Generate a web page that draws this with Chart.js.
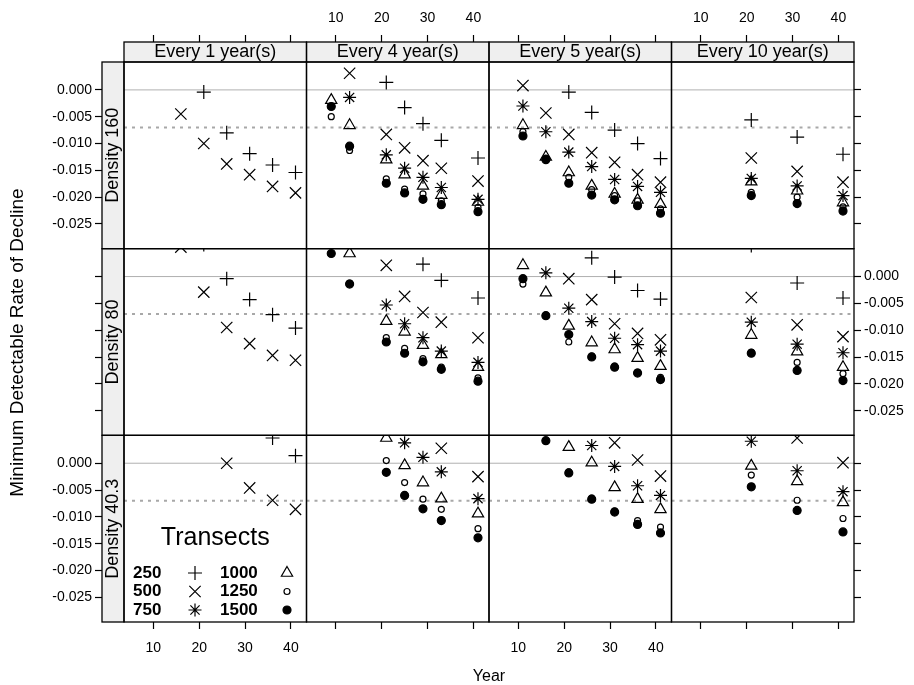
<!DOCTYPE html>
<html>
<head>
<meta charset="utf-8">
<script src="https://cdn.jsdelivr.net/npm/chart.js@4.4.1/dist/chart.umd.min.js"></script>
<style>
  html, body { margin: 0; padding: 0; background: #fff; }
</style>
</head>
<body>
<canvas id="lattice" width="914" height="685"></canvas>
<script>
// panel labels
const intervals = ['Every 1 year(s)', 'Every 4 year(s)', 'Every 5 year(s)', 'Every 10 year(s)'];
const densities = ['Density 160', 'Density 80', 'Density 40.3'];
const transects = ['250', '500', '750', '1000', '1250', '1500'];

// survey years for each interval
const yearsEvery1 = [16, 21, 26, 31, 36, 41];
const yearsEvery4 = [9, 13, 21, 25, 29, 33, 41];
const yearsEvery5 = [11, 16, 21, 26, 31, 36, 41];
const yearsEvery10 = [21, 31, 41];

const xTickValues = [10, 20, 30, 40];
const yTickValues = [0, -0.005, -0.01, -0.015, -0.02, -0.025];
const zeroLine = 0;
const targetLine = -0.007;

// rows = transects 250, 500, 750, 1000, 1250, 1500 (null = off the panel)
const d160Every1 = [
  [null, -0.0004, -0.0080, -0.0119, -0.0140, -0.0154],
  [-0.0045, -0.0100, -0.0138, -0.0158, -0.0180, -0.0192],
  [null, null, null, null, null, null],
  [null, null, null, null, null, null],
  [null, null, null, null, null, null],
  [null, null, null, null, null, null]
];
const d160Every4 = [
  [null, null, 0.0014, -0.0033, -0.0063, -0.0094, -0.0127],
  [null, 0.0031, -0.0083, -0.0108, -0.0132, -0.0146, -0.0170],
  [null, -0.0014, -0.0121, -0.0146, -0.0163, -0.0182, -0.0204],
  [-0.0019, -0.0066, -0.0130, -0.0158, -0.0179, -0.0196, -0.0209],
  [-0.0050, -0.0113, -0.0166, -0.0185, -0.0194, -0.0207, -0.0219],
  [-0.0031, -0.0105, -0.0174, -0.0192, -0.0204, -0.0214, -0.0227]
];
const d160Every5 = [
  [null, null, -0.0004, -0.0042, -0.0075, -0.0100, -0.0128],
  [0.0008, -0.0043, -0.0083, -0.0117, -0.0135, -0.0158, -0.0172],
  [-0.0030, -0.0078, -0.0116, -0.0143, -0.0167, -0.0180, -0.0191],
  [-0.0066, -0.0125, -0.0154, -0.0179, -0.0194, -0.0205, -0.0213],
  [-0.0078, -0.0127, -0.0163, -0.0186, -0.0197, -0.0207, -0.0222],
  [-0.0086, -0.0130, -0.0174, -0.0196, -0.0205, -0.0216, -0.0230]
];
const d160Every10 = [
  [-0.0056, -0.0088, -0.0120],
  [-0.0127, -0.0152, -0.0172],
  [-0.0165, -0.0179, -0.0197],
  [-0.0171, -0.0188, -0.0210],
  [-0.0191, -0.0200, -0.0218],
  [-0.0197, -0.0212, -0.0226]
];
const d80Every1 = [
  [null, 0.0060, -0.0004, -0.0043, -0.0071, -0.0096],
  [0.0055, -0.0029, -0.0095, -0.0125, -0.0147, -0.0156],
  [null, null, null, null, null, null],
  [null, null, null, null, null, null],
  [null, null, null, null, null, null],
  [null, null, null, null, null, null]
];
const d80Every4 = [
  [null, null, null, null, 0.0023, -0.0007, -0.0040],
  [null, null, 0.0021, -0.0037, -0.0067, -0.0085, -0.0114],
  [null, null, -0.0053, -0.0088, -0.0114, -0.0139, -0.0160],
  [null, 0.0043, -0.0083, -0.0103, -0.0128, -0.0145, -0.0169],
  [null, -0.0012, -0.0114, -0.0134, -0.0153, -0.0169, -0.0189],
  [0.0043, -0.0014, -0.0122, -0.0143, -0.0159, -0.0173, -0.0195]
];
const d80Every5 = [
  [null, null, null, 0.0035, -0.0001, -0.0026, -0.0042],
  [null, null, -0.0004, -0.0043, -0.0088, -0.0106, -0.0118],
  [null, 0.0007, -0.0059, -0.0084, -0.0115, -0.0127, -0.0139],
  [0.0021, -0.0030, -0.0092, -0.0123, -0.0136, -0.0152, -0.0167],
  [-0.0014, -0.0072, -0.0122, -0.0148, -0.0167, -0.0178, -0.0188],
  [-0.0004, -0.0073, -0.0108, -0.0150, -0.0169, -0.0180, -0.0192]
];
const d80Every10 = [
  [0.0058, -0.0012, -0.0040],
  [-0.0039, -0.0090, -0.0112],
  [-0.0085, -0.0126, -0.0142],
  [-0.0109, -0.0140, -0.0169],
  [-0.0141, -0.0160, -0.0181],
  [-0.0143, -0.0175, -0.0194]
];
const d40Every1 = [
  [null, null, null, null, 0.0047, 0.0014],
  [null, null, 0.0000, -0.0046, -0.0069, -0.0086],
  [null, null, null, null, null, null],
  [null, null, null, null, null, null],
  [null, null, null, null, null, null],
  [null, null, null, null, null, null]
];
const d40Every4 = [
  [null, null, null, null, null, null, null],
  [null, null, null, null, null, 0.0028, -0.0025],
  [null, null, null, 0.0038, 0.0011, -0.0016, -0.0066],
  [null, null, 0.0047, -0.0004, -0.0036, -0.0066, -0.0094],
  [null, null, 0.0005, -0.0036, -0.0067, -0.0086, -0.0122],
  [null, null, -0.0017, -0.0060, -0.0085, -0.0107, -0.0139]
];
const d40Every5 = [
  [null, null, null, null, null, null, null],
  [null, null, null, null, 0.0038, 0.0006, -0.0024],
  [null, null, null, 0.0033, -0.0006, -0.0042, -0.0060],
  [null, null, 0.0030, 0.0001, -0.0045, -0.0067, -0.0086],
  [null, null, -0.0016, -0.0065, -0.0089, -0.0107, -0.0119],
  [null, 0.0042, -0.0018, -0.0067, -0.0091, -0.0114, -0.0130]
];
const d40Every10 = [
  [null, null, null],
  [null, 0.0047, 0.0001],
  [0.0041, -0.0014, -0.0053],
  [-0.0005, -0.0034, -0.0073],
  [-0.0022, -0.0069, -0.0103],
  [-0.0044, -0.0088, -0.0128]
];

const years = [yearsEvery1, yearsEvery4, yearsEvery5, yearsEvery10];
const panelValues = [
  [d160Every1, d160Every4, d160Every5, d160Every10],
  [d80Every1, d80Every4, d80Every5, d80Every10],
  [d40Every1, d40Every4, d40Every5, d40Every10]
];

const xMin = 3.6, xMax = 43.4;
const yMin = -0.0296, yMax = 0.0052;
const fontFamily = '"Liberation Sans", Arial, Helvetica, sans-serif';

// plotting symbols, one per transect count
const markStyles = [
  { pointStyle: 'cross', radius: 7, filled: false },
  { pointStyle: 'crossRot', radius: 8, filled: false },
  { pointStyle: 'star', radius: 6.5, filled: false },
  { pointStyle: 'triangle', radius: 6.5, filled: false },
  { pointStyle: 'circle', radius: 3, filled: false },
  { pointStyle: 'circle', radius: 4, filled: true }
];

Chart.defaults.font.family = fontFamily;
Chart.defaults.color = '#000';

const datasets = [];
densities.forEach((dens, r) => {
  intervals.forEach((iv, c) => {
    // reference lines
    [zeroLine, targetLine].forEach((v, k) => {
      datasets.push({
        type: 'line',
        label: k ? 'target' : 'zero',
        data: [{ x: xMin, y: v }, { x: xMax, y: v }],
        xAxisID: 'x' + c,
        yAxisID: 'y' + r,
        borderColor: k ? '#a8a8a8' : '#b0b0b0',
        borderWidth: k ? 2 : 1,
        borderDash: k ? [3, 5] : [],
        pointRadius: 0,
        order: 20
      });
    });
    panelValues[r][c].forEach((vals, t) => {
      const pts = years[c].map((yr, i) => ({ x: yr, y: vals[i] })).filter(p => p.y !== null);
      const m = markStyles[t];
      datasets.push({
        type: 'scatter',
        label: transects[t],
        data: pts,
        xAxisID: 'x' + c,
        yAxisID: 'y' + r,
        pointStyle: m.pointStyle,
        pointRadius: m.radius,
        pointBorderWidth: 1.2,
        pointBorderColor: '#000',
        pointBackgroundColor: m.filled ? '#000' : 'rgba(0,0,0,0)',
        borderColor: '#000',
        order: 10 - t
      });
    });
  });
});

const tickFont = { size: 14 };
const tickGrid = { display: true, drawOnChartArea: false, drawTicks: true, tickLength: 7, tickColor: '#000', tickWidth: 1.2 };

const scales = {};
intervals.forEach((name, c) => {
  scales['x' + c] = {
    type: 'linear', axis: 'x', position: 'bottom', stack: 'colsBottom', weight: 101 + c,
    min: xMin, max: xMax,
    afterBuildTicks: s => { s.ticks = xTickValues.map(v => ({ value: v })); },
    afterFit: s => { s.height = 43; },
    ticks: { display: c % 2 === 0, font: tickFont, padding: 11, autoSkip: false, maxRotation: 0, callback: v => String(v) },
    grid: tickGrid,
    border: { display: false }
  };
  scales['xt' + c] = {
    type: 'linear', axis: 'x', position: 'top', stack: 'colsTop', weight: 1804 - c,
    min: xMin, max: xMax,
    afterBuildTicks: s => { s.ticks = xTickValues.map(v => ({ value: v })); },
    afterFit: s => { s.height = 42; },
    ticks: { display: c % 2 === 1, font: tickFont, padding: 8, autoSkip: false, maxRotation: 0, callback: v => String(v) },
    grid: tickGrid,
    border: { display: false }
  };
  scales['stripC' + c] = {
    type: 'linear', axis: 'x', position: 'top', stack: 'stripsTop', weight: 1004 - c,
    min: 0, max: 1,
    afterFit: s => { s.height = 20; },
    ticks: { display: false },
    grid: { display: false },
    border: { display: false },
    title: { display: true, text: name, color: '#000', font: { size: 18, lineHeight: '18px' }, padding: { top: 1, bottom: 1 } }
  };
});
densities.forEach((name, r) => {
  scales['y' + r] = {
    type: 'linear', axis: 'y', position: 'left', stack: 'rowsLeft', weight: 1803 - r,
    min: yMin, max: yMax,
    afterBuildTicks: s => { s.ticks = yTickValues.map(v => ({ value: v })); },
    afterFit: s => { s.width = 68; },
    ticks: { display: r !== 1, font: tickFont, padding: 3, autoSkip: false, callback: v => v.toFixed(3) },
    grid: tickGrid,
    border: { display: false }
  };
  scales['yr' + r] = {
    type: 'linear', axis: 'y', position: 'right', stack: 'rowsRight', weight: 101 + r,
    min: yMin, max: yMax,
    afterBuildTicks: s => { s.ticks = yTickValues.map(v => ({ value: v })); },
    afterFit: s => { s.width = 60; },
    ticks: { display: r === 1, font: tickFont, padding: 3, autoSkip: false, callback: v => v.toFixed(3) },
    grid: tickGrid,
    border: { display: false }
  };
  scales['stripR' + r] = {
    type: 'linear', axis: 'y', position: 'left', stack: 'stripsLeft', weight: 1003 - r,
    min: 0, max: 1,
    afterFit: s => { s.width = 22; },
    ticks: { display: false },
    grid: { display: false },
    border: { display: false },
    title: { display: true, text: name, color: '#000', font: { size: 18, lineHeight: '18px' }, padding: { top: 2, bottom: 2 } }
  };
});

// strip backgrounds, panel frames and the Transects key
const latticeFrames = {
  id: 'latticeFrames',
  beforeDraw(chart) {
    const { ctx, scales } = chart;
    ctx.save();
    ctx.fillStyle = '#efefef';
    Object.values(scales).filter(s => s.id.startsWith('strip')).forEach(s => {
      ctx.fillRect(s.left, s.top, s.width, s.height);
    });
    ctx.restore();
  },
  afterDraw(chart) {
    const { ctx, scales } = chart;
    ctx.save();
    ctx.strokeStyle = '#000';
    ctx.lineWidth = 1.3;
    Object.values(scales).filter(s => s.id.startsWith('strip')).forEach(s => {
      ctx.strokeRect(s.left, s.top, s.width, s.height);
    });
    densities.forEach((d, r) => intervals.forEach((iv, c) => {
      const xs = scales['x' + c], ys = scales['y' + r];
      ctx.strokeRect(xs.left, ys.top, xs.width, ys.height);
    }));

    // key inside the bottom-left panel
    const xs = scales.x0, ys = scales.y2;
    ctx.fillStyle = '#000';
    ctx.textBaseline = 'middle';
    ctx.textAlign = 'center';
    ctx.font = '25px ' + fontFamily;
    ctx.fillText('Transects', (xs.left + xs.right) / 2, ys.bottom - 84);
    transects.forEach((t, i) => {
      const col = Math.floor(i / 3), row = i % 3;
      const y = ys.bottom - 49 + row * 18.5;
      ctx.font = 'bold 17px ' + fontFamily;
      ctx.textAlign = 'left';
      ctx.fillStyle = '#000';
      ctx.fillText(t, xs.left + 9 + col * 87, y);
      const m = markStyles[i];
      ctx.fillStyle = m.filled ? '#000' : 'rgba(0,0,0,0)';
      ctx.strokeStyle = '#000';
      ctx.lineWidth = 1.2;
      Chart.helpers.drawPoint(ctx, { pointStyle: m.pointStyle, radius: m.radius, borderWidth: 1.2, rotation: 0 },
        xs.left + 71 + col * 92, y);
    });
    ctx.restore();
  }
};

new Chart(document.getElementById('lattice'), {
  type: 'scatter',
  data: { datasets: datasets },
  options: {
    responsive: false,
    animation: false,
    devicePixelRatio: 1,
    events: [],
    layout: { padding: 0 },
    scales: scales,
    plugins: {
      legend: { display: false },
      tooltip: { enabled: false },
      title: {
        display: true, position: 'left', text: 'Minimum Detectable Rate of Decline', color: '#000',
        font: { size: 19, weight: 'normal', lineHeight: '20px' }, padding: { top: 8, bottom: 6 }
      },
      subtitle: {
        display: true, position: 'bottom', fullSize: false, text: 'Year', color: '#000',
        font: { size: 16, weight: 'normal', lineHeight: '17px' }, padding: { top: 3, bottom: 0 }
      }
    }
  },
  plugins: [latticeFrames]
});
</script>
</body>
</html>
